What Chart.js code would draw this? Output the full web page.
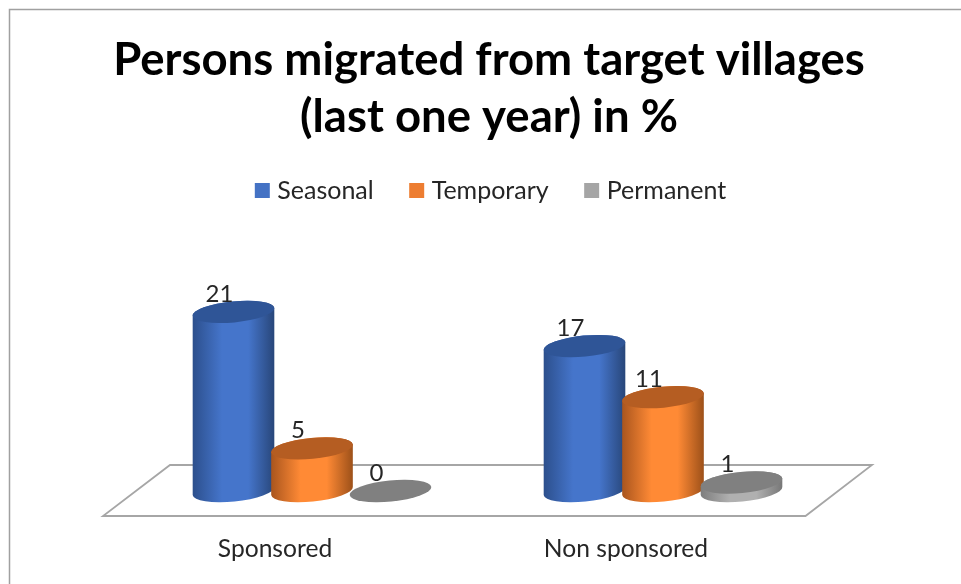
<!DOCTYPE html>
<html>
<head>
<meta charset="utf-8">
<style>html,body{margin:0;padding:0;background:#fff}#w{width:961px;height:584px;position:relative}</style>
<script src="https://cdn.jsdelivr.net/npm/chart.js@4"></script>
</head>
<body>
<div id="w"><canvas id="c" width="961" height="584"></canvas></div>
<script>
const categories = ["Sponsored", "Non sponsored"];
const seasonal = [21, 17];
const temporary = [5, 11];
const permanent = [0, 1];
const seriesNames = ["Seasonal", "Temporary", "Permanent"];
const titleLines = ["Persons migrated from target villages", "(last one year) in %"];
const legendColors = ["#4472c4", "#ed7d31", "#a5a5a5"];

const shades = [
  {edgeL:"#2c4f8c", mid:"#4575cb", edgeR:"#284679", top:"#2f5597"},
  {edgeL:"#a9551e", mid:"#ff8a35", edgeR:"#9c5019", top:"#b55d22"},
  {edgeL:"#7d7d7d", mid:"#b0b0b0", edgeR:"#777777", top:"#808080"}
];
const RX = 41, RY = 10.5, ROT = -5.5 * Math.PI / 180;

function cylinder(ctx, cx, yTop, yBase, s) {
  if (yBase - yTop > 0.5) {
    const g = ctx.createLinearGradient(cx - RX, 0, cx + RX, 0);
    g.addColorStop(0, s.edgeL);
    g.addColorStop(0.36, s.mid);
    g.addColorStop(0.68, s.mid);
    g.addColorStop(1, s.edgeR);
    ctx.beginPath();
    ctx.ellipse(cx, yBase, RX, RY, ROT, 0, Math.PI);
    ctx.ellipse(cx, yTop, RX, RY, ROT, Math.PI, 2 * Math.PI);
    ctx.closePath();
    ctx.fillStyle = g;
    ctx.fill();
  }
  ctx.beginPath();
  ctx.ellipse(cx, yTop, RX, RY, ROT, 0, 2 * Math.PI);
  ctx.fillStyle = s.top;
  ctx.fill();
}

const scene = {
  id: "scene",
  afterLayout(chart) {
    chart.legend.left += 5.5;
    chart.legend.right += 5.5;
    chart.titleBlock.left = 17;
    chart.titleBlock.right = 961;
  },
  beforeDraw(chart) {
    const ctx = chart.ctx;
    ctx.save();
    ctx.strokeStyle = "#a0a0a0";
    ctx.lineWidth = 1.5;
    ctx.beginPath();
    ctx.moveTo(9.5, 584);
    ctx.lineTo(9.5, 9.5);
    ctx.lineTo(961, 9.5);
    ctx.stroke();
    ctx.restore();
  },
  beforeDatasetsDraw(chart) {
    const ctx = chart.ctx, a = chart.chartArea;
    ctx.save();
    ctx.strokeStyle = "#a6a6a6";
    ctx.lineWidth = 1.8;
    ctx.beginPath();
    ctx.moveTo(a.left + 33.5, a.bottom - 26);
    ctx.lineTo(a.right + 33.5, a.bottom - 26);
    ctx.lineTo(a.right - 33, a.bottom + 25);
    ctx.lineTo(a.left - 33.5, a.bottom + 25);
    ctx.closePath();
    ctx.stroke();
    ctx.restore();
  },
  beforeDatasetDraw() { return false; },
  afterDatasetsDraw(chart) {
    const ctx = chart.ctx;
    ctx.save();
    chart.data.datasets.forEach((d, i) => {
      chart.getDatasetMeta(i).data.forEach((el) => {
        const p = el.getProps(["x", "y", "base"], true);
        cylinder(ctx, p.x, p.y, p.base, shades[i]);
      });
    });
    ctx.font = "24px Lato";
    ctx.fillStyle = "#262626";
    ctx.textAlign = "center";
    ctx.textBaseline = "middle";
    chart.data.datasets.forEach((d, i) => {
      chart.getDatasetMeta(i).data.forEach((el, j) => {
        const p = el.getProps(["x", "y"], true);
        ctx.fillText(String(d.data[j]), p.x - 14, p.y - 18);
      });
    });
    ctx.restore();
  }
};

new Chart(document.getElementById("c"), {
  type: "bar",
  data: {
    labels: categories,
    datasets: [
      {label: seriesNames[0], data: seasonal, backgroundColor: legendColors[0]},
      {label: seriesNames[1], data: temporary, backgroundColor: legendColors[1]},
      {label: seriesNames[2], data: permanent, backgroundColor: legendColors[2]}
    ]
  },
  plugins: [scene],
  options: {
    responsive: false,
    animation: false,
    barThickness: 78.5,
    layout: {padding: {left: 136.5, right: 122.5, top: 0, bottom: 20.6}},
    plugins: {
      title: {
        display: true,
        text: titleLines,
        color: "#000",
        font: {family: "Lato", size: 45.5, weight: "bold", lineHeight: 1.253},
        padding: {top: 32, bottom: -8.5}
      },
      legend: {
        display: true,
        position: "top",
        labels: {usePointStyle: true, pointStyle: "rect", boxWidth: 5, boxHeight: 15, padding: 40.5, color: "#262626", font: {family: "Lato", size: 25}}
      },
      tooltip: {enabled: false}
    },
    scales: {
      x: {
        grid: {display: false, drawTicks: false},
        border: {display: false},
        afterFit(scale) { scale.height = 72.4; },
        ticks: {color: "#262626", padding: 43.6, labelOffset: -37, maxRotation: 0, font: {family: "Lato", size: 24.6, lineHeight: 1.2}}
      },
      y: {display: false, min: 0, max: 32.6, grid: {display: false}}
    }
  }
});
</script>
</body>
</html>
